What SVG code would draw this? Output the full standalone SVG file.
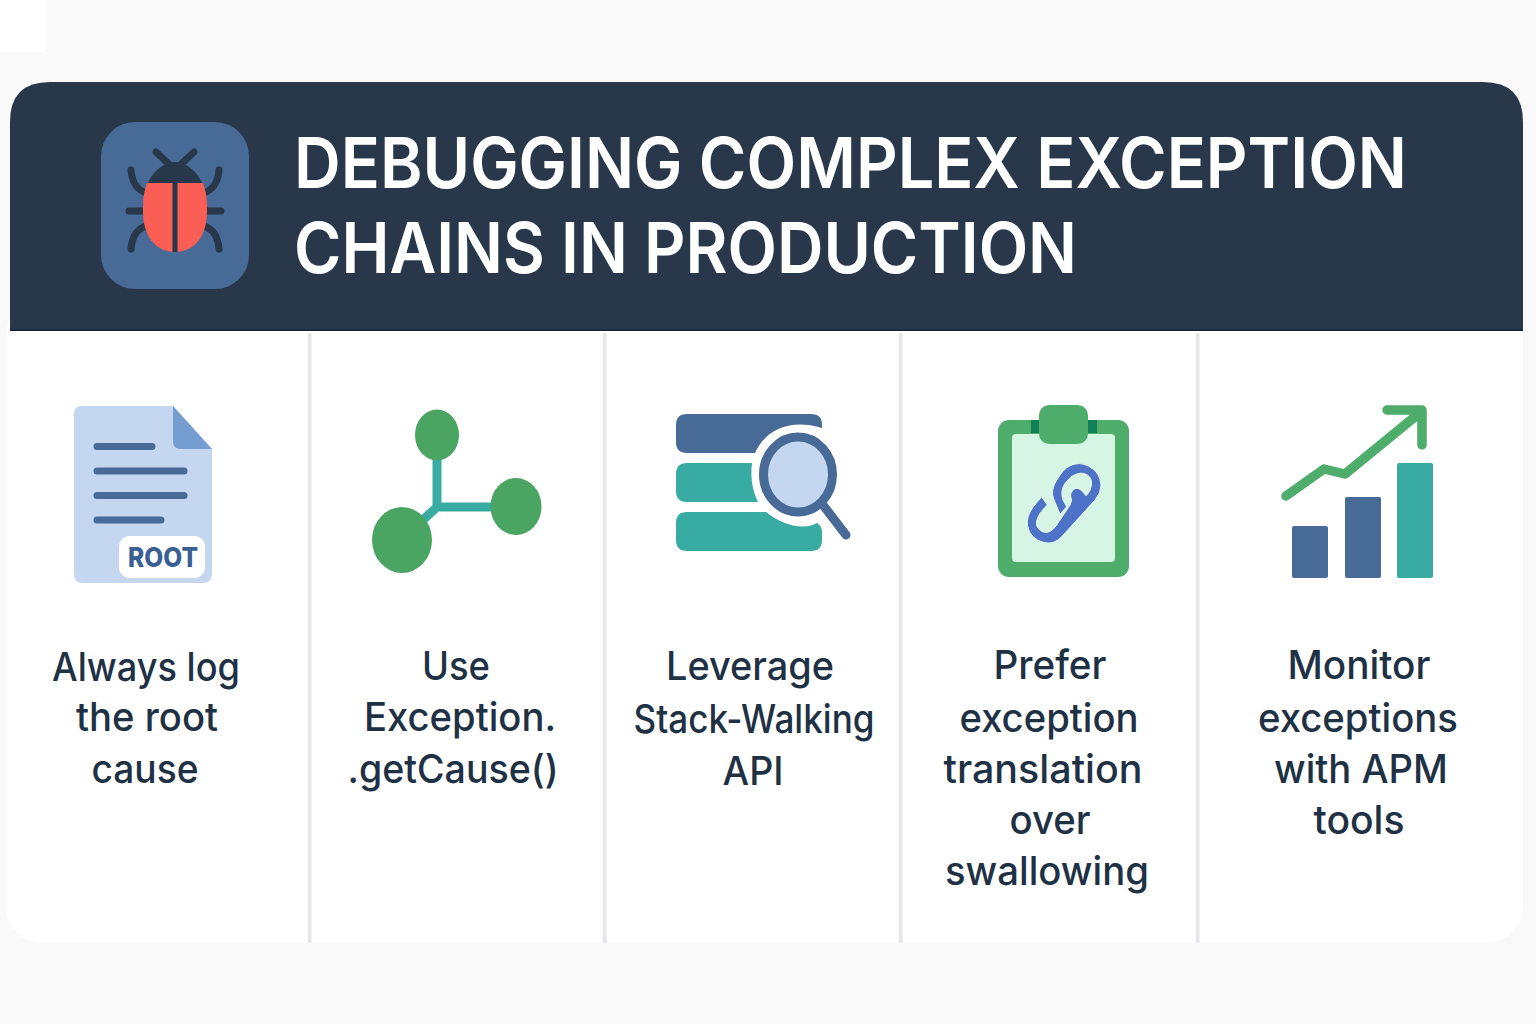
<svg xmlns="http://www.w3.org/2000/svg" width="1536" height="1024" viewBox="0 0 1536 1024">
<style>
.t{font-family:Inter,"Liberation Sans",sans-serif;font-size:39px;fill:#1f3145;text-anchor:middle;font-weight:500}
.h{font-family:Inter,"Liberation Sans",sans-serif;font-size:70px;fill:#fff;font-weight:600}
.div{fill:#e6e7ea}
.blue{fill:#476a96}.teal{fill:#38aba2}.green{fill:#4ead6b}.dk{fill:#283749}
.bl{stroke:#283749;stroke-width:7;fill:none;stroke-linecap:round}
</style>
<rect width="1536" height="1024" fill="#f9f9f9"/>
<rect width="45" height="52" fill="#fff"/>
<g id="card"><rect x="6" y="300" width="1517" height="643" rx="36" fill="#fff"/></g>
<g id="header"><path d="M10 331V122Q10 82 50 82H1483Q1523 82 1523 122V331Z" fill="#283749"/>
<rect x="10" y="329.500" width="1513" height="1.500" fill="#15233a"/>
<text class="h" x="294" y="188" textLength="1113" lengthAdjust="spacingAndGlyphs">DEBUGGING COMPLEX EXCEPTION</text>
<text class="h" x="294" y="273" textLength="783" lengthAdjust="spacingAndGlyphs">CHAINS IN PRODUCTION</text></g>
<g id="bug"><rect x="101" y="122" width="148" height="167" rx="34" class="blue"/>
<path class="bl" d="M156 152L171 166M194 152L179 166M131 170C132 182 136 189 146 193M219 170C218 182 214 189 204 193M129 211H146M221 211H204M131 249C132 236 137 229 146 226M219 249C218 236 213 229 204 226"/>
<path class="dk" d="M147 185C153 170 165 162 175 162C185 162 197 170 203 185Z"/>
<path d="M147 183H203C207 195 207 200 207 212C207 235 195 252 175 252C155 252 143 235 143 212C143 200 143 195 147 183Z" fill="#fa5e55"/>
<rect x="172.500" y="183" width="5" height="69" class="dk"/></g>
<g id="dividers"><rect class="div" x="308" y="333" width="3.500" height="610"/><rect class="div" x="603" y="333" width="3.500" height="610"/><rect class="div" x="899" y="333" width="3.500" height="610"/><rect class="div" x="1196" y="333" width="3.500" height="610"/></g>
<g id="n1">
<path d="M82 406H173L212 449V574Q212 583 203 583H83Q74 583 74 574V414Q74 406 82 406Z" fill="#c5d7f0"/>
<path d="M173 406L212 449H181Q173 449 173 441Z" fill="#749dd2"/>
<g stroke="#476a96" stroke-width="7" stroke-linecap="round"><path d="M97 446.500H152M97 471H184M97 495.500H184M97 520H161"/></g>
<rect x="119" y="536" width="86" height="42" rx="11" fill="#fff"/>
<text x="163" y="567" font-family="Inter,'Liberation Sans',sans-serif" font-size="27" font-weight="800" fill="#3a6093" text-anchor="middle" textLength="70" lengthAdjust="spacingAndGlyphs">ROOT</text>
<text class="t" x="146" y="681" textLength="188" lengthAdjust="spacingAndGlyphs">Always log</text>
<text class="t" x="147" y="731" textLength="142" lengthAdjust="spacingAndGlyphs">the root</text>
<text class="t" x="145" y="783" textLength="107" lengthAdjust="spacingAndGlyphs">cause</text>
</g>
<g id="n2">
<path d="M437 450V507H500M437 507L410 532" stroke="#38aba2" stroke-width="9" fill="none"/>
<ellipse cx="437" cy="435" rx="22" ry="25.500" fill="#4aa462"/><ellipse cx="516" cy="506.500" rx="25.500" ry="28.500" fill="#4aa462"/><ellipse cx="402" cy="540" rx="30" ry="33" fill="#4aa462"/>
<text class="t" x="456" y="680" textLength="68" lengthAdjust="spacingAndGlyphs">Use</text>
<text class="t" x="460" y="731" textLength="192" lengthAdjust="spacingAndGlyphs">Exception.</text>
<text class="t" x="453" y="783" textLength="211" lengthAdjust="spacingAndGlyphs">.getCause()</text>
</g>
<g id="n3">
<path class="blue" d="M687 414H811Q822 414 822 425V428C790 418 765 430 755 453H687Q676 453 676 442V425Q676 414 687 414Z"/>
<path class="teal" d="M687 463H752C750 478 753 492 758 502H687Q676 502 676 491V474Q676 463 687 463Z"/>
<path class="teal" d="M687 512H766C785 527 805 530 817 523Q822 526 822 532V540Q822 551 811 551H687Q676 551 676 540V523Q676 512 687 512Z"/>
<ellipse cx="798" cy="474.500" rx="34.500" ry="37.500" fill="#c5d7f0" stroke="#476a96" stroke-width="9"/>
<path d="M823 505L846 535" stroke="#476a96" stroke-width="9" stroke-linecap="round"/>
<text class="t" x="750" y="680" textLength="168" lengthAdjust="spacingAndGlyphs">Leverage</text>
<text class="t" x="754" y="733" textLength="241" lengthAdjust="spacingAndGlyphs">Stack-Walking</text>
<text class="t" x="753" y="785" textLength="61" lengthAdjust="spacingAndGlyphs">API</text>
</g>
<g id="n4">
<rect x="998" y="420" width="131" height="157" rx="11" class="green"/>
<rect x="1031" y="420" width="66" height="13" fill="#128056"/>
<rect x="1012" y="434" width="103" height="128" rx="4" fill="#d6f5e4"/>
<rect x="1039" y="405" width="49" height="39" rx="10" class="green"/>
<path d="M1041.700 496.700L1033 507Q1026 517 1027.500 526Q1030 539 1044 542.500Q1054 545 1061.700 536.700L1095 500Q1101 493 1101 485Q1100 474 1093 469Q1084 462 1075 464Q1066 466 1060 475L1055 483Q1051 491 1053.300 498L1060 514.300L1066.700 506.700L1063 500Q1060 491 1065 483.300L1071 477Q1078 472 1084 473.500Q1092 476 1091.500 484Q1091 491 1086 495.700L1082 491Q1077 486 1073 490Q1069 494 1071.700 500L1070 505L1056 526Q1050 534 1043 532Q1035 528 1036.700 521Q1038 514 1047.300 505Z" fill="#4f72c9" stroke="#eafaf1" stroke-width="1"/>
<text class="t" x="1050" y="679" textLength="113" lengthAdjust="spacingAndGlyphs">Prefer</text>
<text class="t" x="1049" y="732" textLength="179" lengthAdjust="spacingAndGlyphs">exception</text>
<text class="t" x="1043" y="783" textLength="199" lengthAdjust="spacingAndGlyphs">translation</text>
<text class="t" x="1050" y="834" textLength="81" lengthAdjust="spacingAndGlyphs">over</text>
<text class="t" x="1047" y="885" textLength="204" lengthAdjust="spacingAndGlyphs">swallowing</text>
</g>
<g id="n5">
<rect x="1292" y="526" width="36" height="52" rx="2" class="blue"/><rect x="1345" y="497" width="36" height="81" rx="2" class="blue"/><rect x="1397" y="463" width="36" height="115" rx="2" class="teal"/>
<path d="M1286 496L1324 469L1345 474L1422 411M1387 410H1422V445" fill="none" stroke="#4ead6b" stroke-width="9.500" stroke-linecap="round" stroke-linejoin="round"/>
<text class="t" x="1359" y="679" textLength="143" lengthAdjust="spacingAndGlyphs">Monitor</text>
<text class="t" x="1358" y="732" textLength="200" lengthAdjust="spacingAndGlyphs">exceptions</text>
<text class="t" x="1361" y="783" textLength="174" lengthAdjust="spacingAndGlyphs">with APM</text>
<text class="t" x="1359" y="834" textLength="91" lengthAdjust="spacingAndGlyphs">tools</text>
</g>
</svg>
